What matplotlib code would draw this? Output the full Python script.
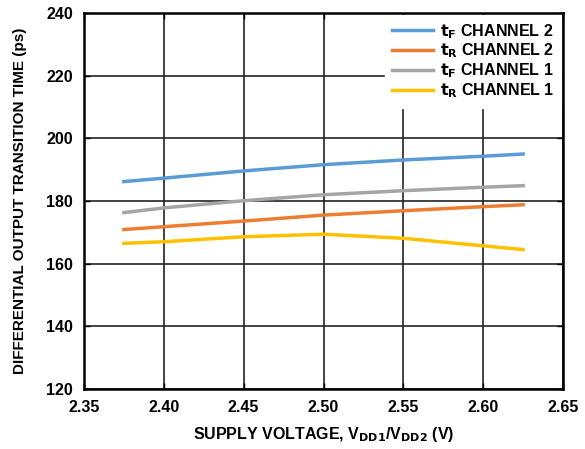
import matplotlib.pyplot as plt

plt.rcParams['font.family'] = ['Liberation Sans', 'DejaVu Sans']
plt.rcParams['font.weight'] = 'bold'

# supply voltage (V)
vdd = [2.375, 2.40, 2.45, 2.50, 2.55, 2.60, 2.625]

# transition times (ps)
tf_ch2 = [186.2, 187.3, 189.6, 191.6, 193.1, 194.3, 195.0]
tr_ch2 = [170.9, 171.8, 173.6, 175.5, 176.9, 178.2, 178.8]
tf_ch1 = [176.3, 177.8, 180.1, 182.0, 183.3, 184.4, 184.9]
tr_ch1 = [166.5, 167.0, 168.6, 169.4, 168.1, 165.7, 164.5]

labels = [r'$\mathbf{t_F}$ CHANNEL 2', r'$\mathbf{t_R}$ CHANNEL 2',
          r'$\mathbf{t_F}$ CHANNEL 1', r'$\mathbf{t_R}$ CHANNEL 1']
colors = ['#5b9bd5', '#ed7d31', '#a5a5a5', '#ffc000']

xticks = [2.35, 2.40, 2.45, 2.50, 2.55, 2.60, 2.65]
yticks = list(range(120, 241, 20))

fig = plt.figure(figsize=(5.85, 4.49), dpi=100)
ax = fig.add_axes([0.1436, 0.1336, 0.8188, 0.8374])

# grid drawn under the legend, ticks stay on top
for xv in xticks:
    ax.axvline(xv, color='#222222', lw=1.2, zorder=0.8)
for yv in yticks:
    ax.axhline(yv, color='#222222', lw=1.2, zorder=0.8)

for ys, lab, c in zip([tf_ch2, tr_ch2, tf_ch1, tr_ch1], labels, colors):
    ax.plot(vdd, ys, color=c, lw=2.5, label=lab, zorder=3)

ax.set_xlim(2.35, 2.65)
ax.set_ylim(120, 240)
ax.set_xticks(xticks)
ax.set_yticks(yticks)
ax.xaxis.set_major_formatter(plt.FormatStrFormatter('%.2f'))
for s in ax.spines.values():
    s.set_linewidth(1.8)
    s.set_zorder(4)
ax.tick_params(direction='in', length=4, labelsize=11.5, width=1,
               top=True, right=True)
ax.tick_params(axis='x', pad=8)
ax.tick_params(axis='y', pad=8)

ax.set_xlabel(r'SUPPLY VOLTAGE, V$_{\mathbf{DD1}}$/V$_{\mathbf{DD2}}$ (V)',
              fontsize=11.5, fontweight='bold', labelpad=7)
ax.set_ylabel('DIFFERENTIAL OUTPUT TRANSITION TIME (ps)',
              fontsize=11, fontweight='bold', labelpad=14)

leg = ax.legend(loc='upper right', frameon=True, fontsize=11.5,
                handlelength=2.6, labelspacing=0.08, borderaxespad=0.1,
                handletextpad=0.4, fancybox=False, edgecolor='white',
                framealpha=1, borderpad=0.45)
leg.set_zorder(2)

fig.savefig('out.png', dpi=100)
